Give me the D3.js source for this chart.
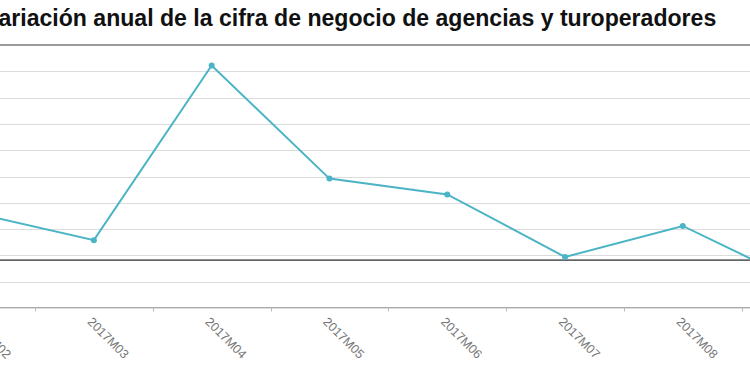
<!DOCTYPE html>
<html><head><meta charset="utf-8">
<script src="https://cdn.jsdelivr.net/npm/d3@7"></script>
<style>
html,body{margin:0;padding:0;background:#fff;overflow:hidden;}
svg{display:block;font-family:"Liberation Sans",Arial,Helvetica,sans-serif;}
</style></head>
<body>
<svg id="c" width="750" height="375"></svg>
<script>
const titleText = "Variación anual de la cifra de negocio de agencias y turoperadores";
const categories = ["2017M02","2017M03","2017M04","2017M05","2017M06","2017M07","2017M08","2017M09"];
const values = [8.9, 3.8, 37.0, 15.5, 12.5, 0.6, 6.5, -4.3];
const yTicks = [-9.1,-4.1,0.9,5.9,10.9,15.9,20.9,25.9,30.9,35.9,40.9];
const baselineValue = 0;

const svg = d3.select("#c");
const W = 750, H = 375;
const plotTop = 45, plotBottom = 308;

const x = d3.scaleBand().domain(categories).range([-82.8, 859.5]).padding(0);
const y = d3.scaleLinear().domain([yTicks[0], yTicks[yTicks.length-1]]).range([plotBottom, plotTop]);

// title: fit so that text after the first glyph spans 0..718
const t = svg.append("text").attr("y", 25).attr("font-size", 20).attr("font-weight", "bold").attr("fill", "#111").text(titleText);
let full = t.node().getComputedTextLength();
let vW = t.node().getSubStringLength(0,1);
const fs = 20 * 718 / (full - vW);
t.attr("font-size", fs);
full = t.node().getComputedTextLength();
vW = t.node().getSubStringLength(0,1);
t.attr("x", -vW - 1.5).attr("y", 26);

// gridlines
svg.append("g").selectAll("line").data(yTicks.slice(0,-1)).join("line")
  .attr("x1", 0).attr("x2", W).attr("y1", d => Math.round(y(d))+0.5).attr("y2", d => Math.round(y(d))+0.5)
  .attr("stroke", "#dcdcdc").attr("stroke-width", 1);
// top border line
svg.append("line").attr("x1",0).attr("x2",W).attr("y1", y(yTicks[yTicks.length-1])).attr("y2", y(yTicks[yTicks.length-1]))
  .attr("stroke", "#9a9a9a").attr("stroke-width", 2);

// x axis
const xAxisG = svg.append("g").attr("transform", `translate(0,${plotBottom - 0.5})`);
xAxisG.append("line").attr("x1",0).attr("x2",W).attr("stroke","#aaa").attr("stroke-width",1.2);
const bounds = categories.map(c => x(c)).concat([x(categories[categories.length-1]) + x.bandwidth()]);
xAxisG.selectAll("line.tick").data(bounds).join("line").attr("class","tick")
  .attr("x1", d => Math.round(d)+0.5).attr("x2", d => Math.round(d)+0.5).attr("y1",0).attr("y2",4)
  .attr("stroke","#bbb");
xAxisG.selectAll("text").data(categories).join("text")
  .attr("transform", d => `translate(${x(d) + x.bandwidth()/2 - 4},${12}) rotate(45)`)
  .attr("text-anchor","start").attr("dy","0.35em")
  .attr("font-size", 12.5).attr("fill", "#777").text(d => d);

// zero line
svg.append("line").attr("x1",0).attr("x2",W).attr("y1", y(baselineValue)).attr("y2", y(baselineValue))
  .attr("stroke", "#666").attr("stroke-width", 1.6);

// series
const cx = d => x(d) + x.bandwidth()/2;
const color = "#4bb4c5";
const line = d3.line().x((d,i) => cx(categories[i])).y(d => y(d));
svg.append("path").datum(values).attr("d", line).attr("fill","none").attr("stroke", color).attr("stroke-width", 2);
svg.append("g").selectAll("circle").data(values).join("circle")
  .attr("cx", (d,i) => cx(categories[i])).attr("cy", d => y(d)).attr("r", 3).attr("fill", color);
</script>
</body></html>
